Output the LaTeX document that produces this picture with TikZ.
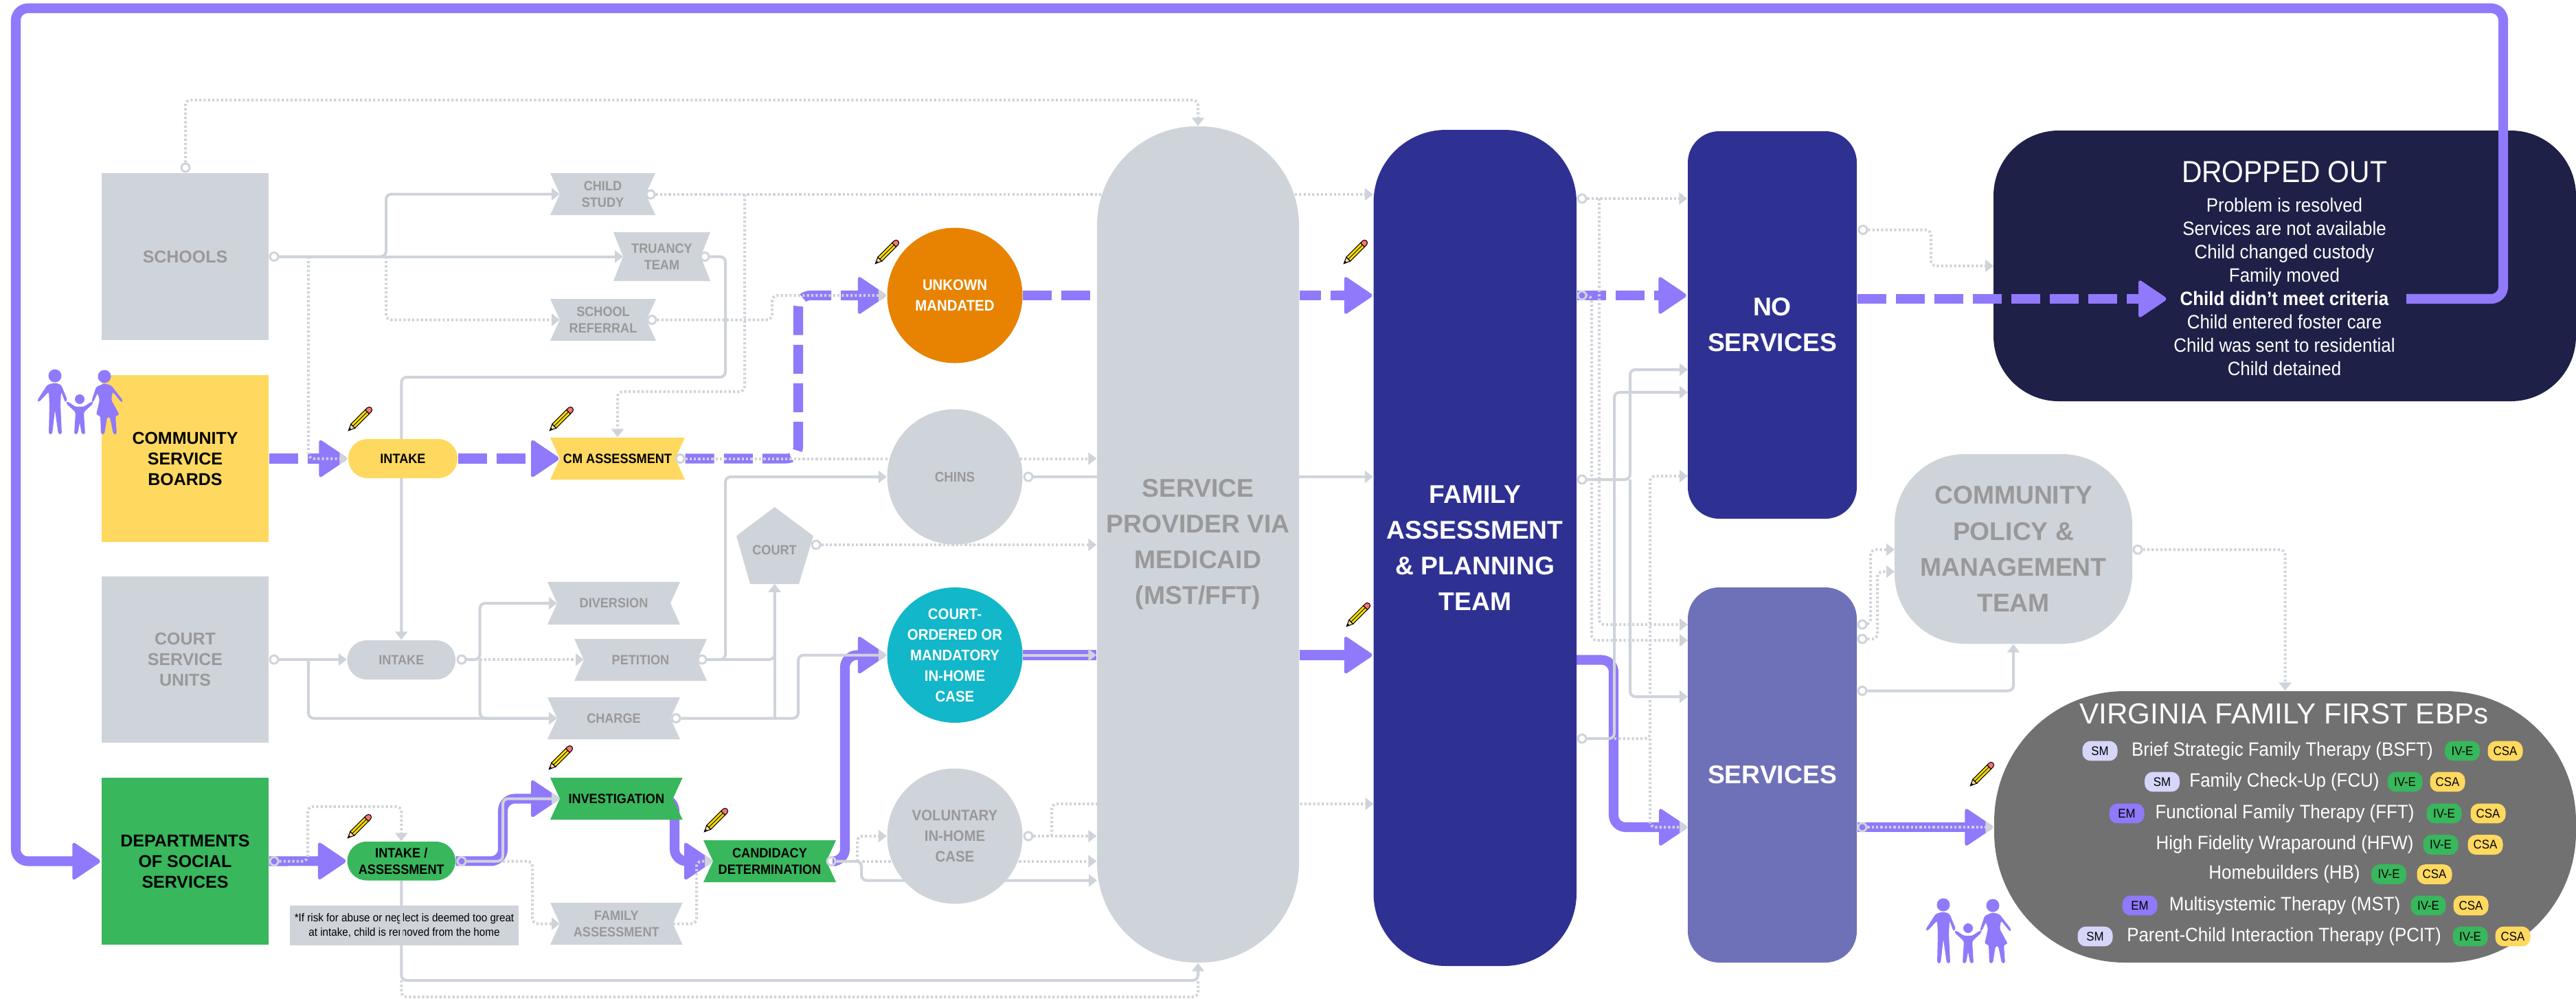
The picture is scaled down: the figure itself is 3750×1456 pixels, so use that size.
\documentclass[tikz,border=0pt]{standalone}
\usepackage{fontspec}
\setmainfont{Liberation Sans}
\newfontfamily\cond[FakeStretch=0.92]{Liberation Sans}
\usetikzlibrary{arrows.meta,backgrounds}
\definecolor{pg}{HTML}{CFD3DA}
\definecolor{lab}{HTML}{999999}
\definecolor{pur}{HTML}{9079FA}
\definecolor{yel}{HTML}{FFD95F}
\definecolor{grn}{HTML}{38B75C}
\definecolor{tea}{HTML}{12B7C9}
\definecolor{ora}{HTML}{E78300}
\definecolor{nav}{HTML}{2E3192}
\definecolor{drk}{HTML}{1E2047}
\definecolor{srv}{HTML}{6E70B8}
\definecolor{ebp}{HTML}{717171}
\definecolor{smc}{HTML}{D6D6FB}
\newcommand\bx[7]{\node[box,#6,minimum width={(#4-#2)*0.01cm},minimum height={(#5-#3)*0.01cm}] (#1) at ({(#2+#4)/2},{(#3+#5)/2}) {#7};}
\newcommand\nb[8]{\fill[#6] (#2,#3) -- (#4,#3) -- ({#4-14},{(#3+#5)/2}) -- (#4,#5) -- (#2,#5) -- ({#2+14},{(#3+#5)/2}) -- cycle;
 \bx{#1}{#2}{#3}{#4}{#5}{#7}{#8}
 \coordinate (#1-w) at ({#2+14},{(#3+#5)/2}); \coordinate (#1-e) at ({#4-14},{(#3+#5)/2});}
\newcommand\hd[1]{\fill[hdst] (#1) ++(-42,-29) -- ++(43,29) -- ++(-43,29) -- cycle;}
\tikzset{
 box/.style={rectangle,inner sep=0pt,align=center},
 port/.style={circle,draw=pg,line width=.85pt,minimum size=3.4pt,inner sep=0pt},
 gs/.style={draw=pg,line width=1.14pt,rounded corners=2.2pt,-{Triangle[length=3.4pt,width=5pt]}},
 gd/.style={gs,dash pattern=on .9pt off .9pt},
 ps/.style={draw=pur,line width=4pt,rounded corners=5pt,shorten >=8pt},
 pd/.style={ps,dash pattern=on 11.95pt off 4pt},
 hdst/.style={fill=pur,rounded corners=1.6pt},
 lgb/.style={font=\fontsize{7.1}{8.54}\selectfont\bfseries,text=lab},
 lbk/.style={font=\fontsize{7.1}{8.54}\selectfont\bfseries,text=black},
 smg/.style={font=\cond\fontsize{5.6}{6.9}\selectfont\bfseries,text=lab},
 smb/.style={font=\cond\fontsize{5.6}{6.9}\selectfont\bfseries,text=black},
 elw/.style={circle,minimum size={197*0.01cm},inner sep=0pt,align=center,font=\cond\fontsize{6.3}{8.54}\selectfont\bfseries},
 tbg/.style={font=\fontsize{10.6}{14.8}\selectfont\bfseries},
 lst/.style={inner sep=0pt,align=center,text=white,font=\cond\fontsize{8}{9.66}\selectfont},
 pill/.style={rectangle,rounded corners=3.4pt,minimum width=14.5pt,minimum height=8.2pt,inner sep=0pt,font=\cond\fontsize{5.2}{6}\selectfont,text=black},
 pencilic/.pic={
  \fill[fill=yellow!80!orange,draw=black,line width=.3pt] (-16,-5) -- (20,-5) -- (20,5) -- (-16,5) -- cycle;
  \fill[fill=pink!60!red,draw=black,line width=.3pt] (20,-5) -- (25,-5) arc[start angle=-90,end angle=90,radius=5] -- (20,5) -- cycle;
  \fill[fill=orange!30,draw=black,line width=.3pt] (-16,-5) -- (-27,0) -- (-16,5) -- cycle;
  \fill[black] (-22,-2.3) -- (-27,0) -- (-22,2.3) -- cycle;
  \draw[black,line width=.25pt] (-16,0) -- (20,0);
 },
 famic/.pic={
  \fill[pur] (28,10) circle[radius=9.5];
  \fill[pur,rounded corners=.8pt] (28,20) -- (37,23) -- (46,45) -- (43,49) -- (37,33) -- (36,52) -- (38,95) -- (33,95) -- (28,60) -- (24,95) -- (19,95) -- (20,52) -- (19,33) -- (5,48) -- (2,46) -- (17,23) -- cycle;
  \fill[pur] (64,44) circle[radius=7];
  \fill[pur,rounded corners=.8pt] (46,47) -- (58,55) -- (70,55) -- (82,47) -- (84,50) -- (70,63) -- (72,95) -- (67,95) -- (64,78) -- (61,95) -- (56,95) -- (58,63) -- (44,50) -- cycle;
  \fill[pur] (100,11) circle[radius=9.5];
  \fill[pur,rounded corners=.8pt] (100,21) -- (110,24) -- (127,46) -- (125,49) -- (112,33) -- (110,45) -- (122,67) -- (116,68) -- (118,95) -- (113,95) -- (108,70) -- (104,70) -- (100,95) -- (95,95) -- (94,68) -- (88,67) -- (93,45) -- (90,35) -- (84,48) -- (81,48) -- (88,26) -- cycle;
 },
}
\begin{document}
\begin{tikzpicture}[x=0.01cm,y=-0.01cm]
\useasboundingbox (0,0) rectangle (3750,1456);
% --- left column
\bx{sch}{148}{252}{391}{495}{fill=pg,lgb}{SCHOOLS}
\bx{csb}{148}{546}{391}{789}{fill=yel,lbk}{COMMUNITY\\SERVICE\\BOARDS}
\bx{csu}{148}{839}{391}{1081}{fill=pg,lgb}{COURT\\SERVICE\\UNITS}
\bx{dss}{148}{1132}{391}{1375}{fill=grn,lbk}{DEPARTMENTS\\OF SOCIAL\\SERVICES}
% --- middle small steps
\nb{cst}{801}{252}{954}{313}{pg}{smg}{CHILD\\STUDY}
\nb{ttm}{893}{338}{1034}{409}{pg}{smg}{TRUANCY\\TEAM}
\nb{srf}{801}{435}{955}{496}{pg}{smg}{SCHOOL\\REFERRAL}
\bx{ink}{507}{639}{666}{696}{fill=yel,rounded corners=8pt,smb}{INTAKE}
\nb{cma}{801}{637}{997}{698}{yel}{smb}{CM ASSESSMENT}
\fill[pg] (1127.6,738) -- (1184,780) -- (1163,850) -- (1092,850) -- (1072,780) -- cycle;
\coordinate (ct-s) at (1127.6,850);
\node[inner sep=0pt,smg] (ct) at (1127.6,801) {COURT};
\nb{dvs}{797}{847}{990}{909}{pg}{smg}{DIVERSION}
\nb{ptn}{836}{930}{1029}{991}{pg}{smg}{PETITION}
\nb{chg}{797}{1015}{990}{1076}{pg}{smg}{CHARGE}
\bx{ig}{505.6}{932}{663}{989}{fill=pg,rounded corners=8pt,smg}{INTAKE}
\bx{ia}{505.6}{1225}{663}{1281.5}{fill=grn,rounded corners=8pt,smb}{INTAKE /\\ASSESSMENT}
\nb{inv}{801}{1132}{993.6}{1193}{grn}{smb}{INVESTIGATION}
\nb{cnd}{1024}{1223}{1217}{1284}{grn}{smb}{CANDIDACY\\DETERMINATION}
\nb{fam}{801}{1314}{993.6}{1375}{pg}{smg}{FAMILY\\ASSESSMENT}
\bx{nte}{422}{1318}{755}{1376}{fill=pg,text=black,font={\cond\fontsize{4.7}{6}\selectfont}}{*If risk for abuse or neglect  is deemed too great\\at intake, child is removed from the home}
% --- circles
\node[elw,fill=ora,text=white] (um) at (1390,430) {UNKOWN\\MANDATED};
\node[elw,fill=pg,text=lab,font=\cond\fontsize{5.8}{8.54}\selectfont\bfseries] (ch) at (1390,694) {CHINS};
\node[elw,fill=tea,text=white] (co) at (1390,953.5) {COURT-\\ORDERED OR\\MANDATORY\\IN-HOME\\CASE};
\node[elw,fill=pg,text=lab] (vo) at (1390,1217) {VOLUNTARY\\IN-HOME\\CASE};
% --- large columns
\bx{sp}{1597}{184}{1891}{1401}{fill=pg,rounded corners=41pt,text=lab,tbg}{SERVICE\\PROVIDER VIA\\MEDICAID\\(MST/FFT)}
\bx{fapt}{1999.5}{189}{2295}{1406}{fill=nav,rounded corners=30pt,text=white,tbg}{FAMILY\\ASSESSMENT\\\& PLANNING\\TEAM}
\bx{ns}{2457}{191}{2703}{755}{fill=nav,rounded corners=13pt,text=white,tbg}{NO\\SERVICES}
\bx{sv}{2457}{855}{2703}{1401}{fill=srv,rounded corners=13pt,text=white,tbg}{SERVICES}
\bx{cp}{2758}{661}{3104}{937}{fill=pg,rounded corners=29pt,text=lab,tbg}{COMMUNITY\\POLICY \&\\MANAGEMENT\\TEAM}
\bx{dr}{2902}{190}{3750}{584}{fill=drk,rounded corners=27pt}{}
\node[lst,font=\cond\fontsize{12.6}{14}\selectfont] (drt) at (3325.5,250) {DROPPED OUT};
\node[lst] (drl) at (3325.5,417.5) {Problem is resolved\\Services are not available\\Child changed custody\\Family moved\\\textbf{Child didn’t meet criteria}\\Child entered foster care\\Child was sent to residential\\Child detained};
\bx{eb}{2903}{1006}{3750}{1401}{fill=ebp,rounded corners=54pt}{}
\node[lst,font=\fontsize{12}{14}\selectfont] (ebt) at (3325,1039) {VIRGINIA FAMILY FIRST EBPs};
% rows
\node[lst] (r1) at (3322.5,1093) {Brief Strategic Family Therapy (BSFT)};
\node[pill,fill=smc] (r1a) at (3057,1093) {SM};
\node[pill,fill=grn] (r1b) at (3584.5,1093) {IV-E};
\node[pill,fill=yel] (r1c) at (3647,1093) {CSA};
\node[lst] (r2) at (3325.5,1138) {Family Check-Up (FCU)};
\node[pill,fill=smc] (r2a) at (3147.5,1138) {SM};
\node[pill,fill=grn] (r2b) at (3501,1138) {IV-E};
\node[pill,fill=yel] (r2c) at (3563,1138) {CSA};
\node[lst] (r3) at (3326,1184) {Functional Family Therapy (FFT)};
\node[pill,fill=pur] (r3a) at (3096,1184) {EM};
\node[pill,fill=grn] (r3b) at (3558,1184) {IV-E};
\node[pill,fill=yel] (r3c) at (3622,1184) {CSA};
\node[lst] (r4) at (3326,1229.6) {High Fidelity Wraparound (HFW)};
\node[pill,fill=grn] (r4b) at (3553,1229.6) {IV-E};
\node[pill,fill=yel] (r4c) at (3618,1229.6) {CSA};
\node[lst] (r5) at (3325.5,1272.6) {Homebuilders (HB)};
\node[pill,fill=grn] (r5b) at (3477.6,1272.6) {IV-E};
\node[pill,fill=yel] (r5c) at (3544,1272.6) {CSA};
\node[lst] (r6) at (3326,1318) {Multisystemic Therapy (MST)};
\node[pill,fill=pur] (r6a) at (3115,1318) {EM};
\node[pill,fill=grn] (r6b) at (3535,1318) {IV-E};
\node[pill,fill=yel] (r6c) at (3597,1318) {CSA};
\node[lst] (r7) at (3325,1363) {Parent-Child Interaction Therapy (PCIT)};
\node[pill,fill=smc] (r7a) at (3050,1363) {SM};
\node[pill,fill=grn] (r7b) at (3596,1363) {IV-E};
\node[pill,fill=yel] (r7c) at (3658,1363) {CSA};
% --- ports
\node[port] (pST) at (270,244) {};
\node[port] (pSE) at (399,373.5) {};
\node[port] (pCS) at (947,283) {};
\node[port] (pTT) at (1026,373.5) {};
\node[port] (pSR) at (949,465.5) {};
\node[port] (pCM) at (990,667.5) {};
\node[port] (pCH) at (1497,694) {};
\node[port] (pCT) at (1188,793) {};
\node[port] (pCU) at (399,960) {};
\node[port] (pIG) at (672,960) {};
\node[port] (pPT) at (1022,960) {};
\node[port] (pCG) at (984,1045.5) {};
\node[port] (pDS) at (399,1253.5) {};
\node[port] (pIA) at (672,1253.5) {};
\node[port] (pCD) at (1210,1253.5) {};
\node[port] (pVO) at (1497,1217) {};
\node[port] (pF1) at (2303,289) {};
\node[port] (pF2) at (2303,430) {};
\node[port] (pF3) at (2303,698) {};
\node[port] (pF4) at (2303,1075) {};
\node[port] (pN) at (2712,334.5) {};
\node[port] (pS1) at (2711,909) {};
\node[port] (pS2) at (2711,930) {};
\node[port] (pS3) at (2711,1005.5) {};
\node[port] (pS4) at (2711,1204) {};
\node[port] (pCP) at (3112,800) {};
% --- named free ends
\coordinate (spin) at (1597,1281.5);
\coordinate (faV) at (1999.5,1170);
\coordinate (sv1) at (2457,909);
\coordinate (sv2) at (2457,932);
\coordinate (sv3) at (2457,1014);
\coordinate (sv4) at (2457,1204);
\coordinate (ns1) at (2457,538);
\coordinate (ns2) at (2457,571);
\coordinate (ns3) at (2457,693);
\coordinate (dr1) at (2902,387);
\coordinate (cp1) at (2758,800);
\coordinate (cp2) at (2758,832);
\coordinate (foA) at (2295,960.5);
\coordinate (dTip) at (3155,435);
\coordinate (dTail) at (3503,435);
% --- connectors behind the nodes
\begin{scope}[on background layer]
 % purple
 \draw[pd] (csb.east) -- (ink.west);
 \draw[pd] (ink.east) -- (cma-w);
 \draw[pd] (cma.east) -- (1162,667.5) |- (um.west);
 \draw[pd,shorten >=0pt] (um.east) -- (um.east -| sp.west);
 \draw[pd,dash phase=3pt] (um.east -| sp.east) -- (um.east -| fapt.west);
 \draw[pd] (um.east -| fapt.east) -- (um.east -| ns.west);
 \draw[ps,shorten >=0pt] (co.east) -- (co.east -| sp.west);
 \draw[ps] (co.east -| sp.east) -- (co.east -| fapt.west);
 \draw[ps] (foA) -- (2349,960.5) |- (sv4);
 \draw[ps] (pS4 -| sv.east) -- (pS4 -| eb.west);
 \draw[ps] (dss.east) -- (ia.west);
 \draw[ps] (ia.east) -- (732,1253.5) |- (inv-w);
 \draw[ps] (inv-e) -- (982,1162.5) -- (982,1253.5) -- (cnd-w);
 \draw[ps] (cnd.east) -- (1230,1253.5) |- (co.west);
 \hd{ink.west} \hd{cma-w} \hd{um.west}
 \hd{um.east -| fapt.west} \hd{um.east -| ns.west}
 \hd{co.east -| fapt.west} \hd{sv4} \hd{pS4 -| eb.west}
 \hd{ia.west} \hd{inv-w} \hd{cnd-w} \hd{co.west}
 % gray
 \draw[gd] (pST.north) -- (270,145.5) -| (sp.north);
 \draw[gs] (pSE.east) -- (pSE.east -| ttm-w);
 \draw[gs] (pSE.east) -- (562,373.5) |- (cst-w);
 \draw[gd] (562,373.5) |- (srf-w);
 \draw[gd] (449,373.5) |- (ink.west);
 \draw[gd] (pCS.east) -- (pCS.east -| fapt.west);
 \draw[gd] (1084,283) -- (1084,570) -| (cma.north);
 \draw[gs] (pTT.east) -- (1056,373.5) -- (1056,549) -| (ig.north);
 \draw[gd] (pSR.east) -- (1124,465.5) |- (um.west);
 \draw[gd] (pCM.east) -- (pCM.east -| sp.west);
 \draw[gs] (pCH.east) -- (pCH.east -| fapt.west);
 \draw[gs] (pPT.east) -- (1056,960) |- (ch.west);
 \draw[gs] (pPT.east) -- (1127.6,960) -- (ct-s);
 \draw[gs] (pCG.east) -- (1162,1045.5) |- (co.west);
 \draw[gs] (1127.6,1045.5) -- (ct-s);
 \draw[gd] (pCT.east) -- (pCT.east -| sp.west);
 \draw[gs] (pCU.east) -- (pCU.east -| ig.west);
 \draw[gs] (449,960) |- (chg-w);
 \draw[gs] (pIG.east) -- (698.6,960) |- (dvs-w);
 \draw[gs] (698.6,960) |- (chg-w);
 \draw[gd] (pIG.east) -- (pIG.east -| ptn-w);
 \draw[gd] (pDS.east) -- (448,1253.5) -- (448,1174) -| (ia.north);
 \draw[gs] (pIA.east) -- (732,1253.5) |- (inv-w);
 \draw[gd] (732,1253.5) -- (775,1253.5) |- (fam-w);
 \draw[gd] (fam-e) -- (1014,1344.5) |- (cnd-w);
 \draw[gd] (pCD.east) -- (pCD.east -| sp.west);
 \draw[gd] (1248,1253.5) |- (vo.west);
 \draw[gs] (pCD.east) -- (1254,1253.5) |- (spin);
 \draw[gd] (pVO.east) -- (pVO.east -| sp.west);
 \draw[gd] (1531,1217) |- (faV);
 \draw[gs] (co.east) -- (co.east -| sp.west);
 \draw[gd] (pF1.east) -- (pF1.east -| ns.west);
 \draw[gd] (2328,289) |- (sv1);
 \draw[gd] (pF2.east) -- (2317,430) |- (sv2);
 \draw[gs] (pF3.east) -- (2373,698) |- (ns1);
 \draw[gs] (2373,698) |- (sv3);
 \draw[gs] (pF4.east) -- (2350,1075) |- (ns2);
 \draw[gd] (2350,1075) -- (2402,1075) |- (ns3);
 \draw[gd] (2402,1075) |- (sv4);
 \draw[gd] (pN.east) -- (2811,334.5) |- (dr1);
 \draw[gd] (pS1.east) -- (2723,909) |- (cp1);
 \draw[gd] (pS2.east) -- (2733,930) |- (cp2);
 \draw[gs] (pS3.east) -| (cp.south);
 \draw[gd] (pS4.east) -- (pS4.east -| eb.west);
 \draw[gd] (pCP.east) -| (eb.north);
\end{scope}
% --- connectors on top
\draw[gs] (ia.south) |- (1744,1427) -- (sp.south);
\draw[gd,-] (584.3,1427) -- (584.3,1451) -- (1744,1451) -- (1744,1427);
\draw[pd] (dTip -| ns.east) -- (dTip);
\hd{dTip}
\draw[ps] (dTail) -- (3644,435) -- (3644,12) -- (23,12) -- (23,1253.5) -- (dss.west);
\hd{dss.west}
% --- pencils and families
\pic[rotate=45,scale=.82] at (523,611) {pencilic};
\pic[rotate=45,scale=.82] at (816,611) {pencilic};
\pic[rotate=45,scale=.82] at (1290,368) {pencilic};
\pic[rotate=45,scale=.82] at (1972,368) {pencilic};
\pic[rotate=45,scale=.82] at (1976,896) {pencilic};
\pic[rotate=45,scale=.82] at (522,1204) {pencilic};
\pic[rotate=45,scale=.82] at (815,1104) {pencilic};
\pic[rotate=45,scale=.82] at (1041,1195) {pencilic};
\pic[rotate=45,scale=.82] at (2884,1128) {pencilic};
\pic at (52,537) {famic};
\pic at (2801,1307) {famic};
\end{tikzpicture}
\end{document}
